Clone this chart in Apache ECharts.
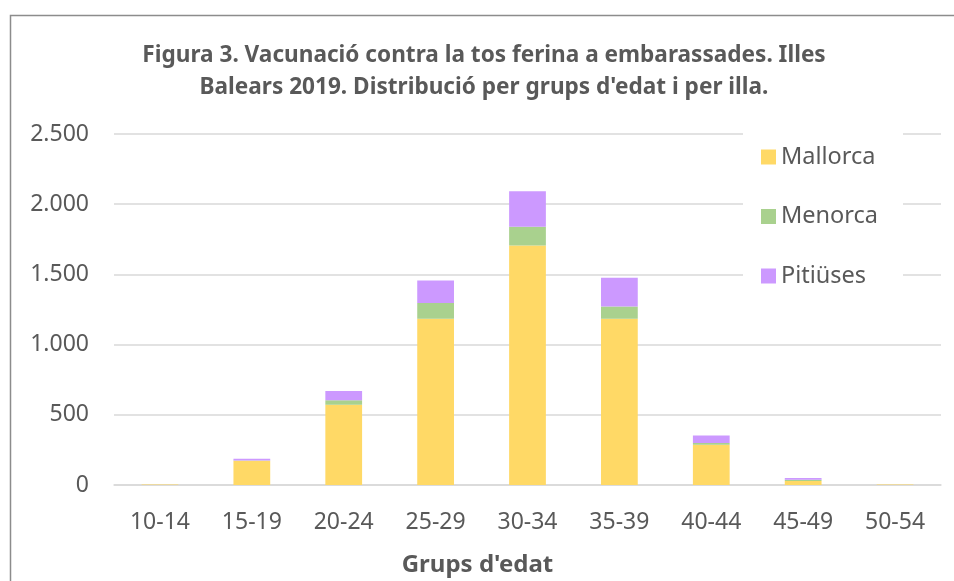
<!DOCTYPE html>
<html>
<head>
<meta charset="utf-8">
<title>Figura 3</title>
<script src="https://cdn.jsdelivr.net/npm/echarts@6/dist/echarts.min.js"></script>
<style>
  html, body { margin: 0; padding: 0; background: #fff; }
  #chart { width: 954px; height: 581px; }
</style>
</head>
<body>
<div id="chart"></div>
<script>
// grups d'edat
const ageGroups = ['10-14', '15-19', '20-24', '25-29', '30-34', '35-39', '40-44', '45-49', '50-54']
// vacunacions per illa
const mallorca = [3, 173, 571, 1184, 1705, 1184, 287, 28, 3]
const menorca = [0, 2, 33, 112, 135, 87, 12, 9, 0]
const pitiuses = [0, 12, 66, 161, 252, 205, 54, 13, 0]
const yTicks = [0, 500, 1000, 1500, 2000, 2500]

const txtColor = '#595959'
const font = 'Noto Sans'

const fmt = v => String(v).replace(/\B(?=(\d{3})+(?!\d))/g, '.')

const myChart = echarts.init(document.getElementById('chart'))

const makeSeries = (name, data, color) => ({
  name: name,
  type: 'bar',
  stack: 'total',
  barWidth: '40%',
  data: data,
  itemStyle: { color: color },
  emphasis: { disabled: true }
})

const option = {
  animation: false,
  textStyle: { fontFamily: font },
  graphic: [
    {
      type: 'rect',
      shape: { x: 10.5, y: 15.5, width: 1000, height: 700 },
      style: { fill: null, stroke: '#8c8c8c', lineWidth: 1.5 },
      silent: true,
      z: 100
    }
  ],
  title: {
    text: "Figura 3. Vacunació contra la tos ferina a embarassades. Illes\nBalears 2019. Distribució per grups d'edat i per illa.",
    left: 479,
    top: 35,
    textAlign: 'center',
    textStyle: {
      fontFamily: font,
      fontSize: 22.6,
      fontWeight: 'bold',
      color: txtColor,
      lineHeight: 32
    }
  },
  legend: {
    orient: 'vertical',
    left: 743,
    top: 128,
    padding: [17, 25, 17, 18],
    backgroundColor: '#fff',
    itemWidth: 15,
    itemHeight: 15,
    itemGap: 35.5,
    icon: 'rect',
    z: 10,
    textStyle: { fontFamily: font, fontSize: 23.5, color: txtColor },
    data: ['Mallorca', 'Menorca', 'Pitiüses']
  },
  grid: {
    left: 114,
    right: 13,
    top: 134,
    bottom: 96,
    containLabel: false,
    outerBoundsMode: 'none'
  },
  xAxis: {
    type: 'category',
    data: ageGroups,
    name: "Grups d'edat",
    nameLocation: 'middle',
    nameGap: 68,
    nameTextStyle: {
      fontFamily: font,
      fontSize: 24,
      fontWeight: 'bold',
      color: txtColor,
      padding: [0, 100, 0, 0]
    },
    axisLine: { lineStyle: { color: '#d9d9d9', width: 1.5 } },
    axisTick: { show: false },
    axisLabel: {
      fontFamily: font,
      fontSize: 23,
      color: txtColor,
      margin: 26
    }
  },
  yAxis: {
    type: 'value',
    min: yTicks[0],
    max: yTicks[yTicks.length - 1],
    interval: yTicks[1] - yTicks[0],
    axisLine: { show: false },
    axisTick: { show: false },
    splitLine: { lineStyle: { color: '#d9d9d9', width: 1.5 } },
    axisLabel: {
      fontFamily: font,
      fontSize: 23,
      color: txtColor,
      margin: 25,
      formatter: v => fmt(v)
    }
  },
  series: [
    makeSeries('Mallorca', mallorca, '#ffd966'),
    makeSeries('Menorca', menorca, '#a9d18e'),
    makeSeries('Pitiüses', pitiuses, '#cc99ff')
  ]
}

myChart.setOption(option)
</script>
</body>
</html>
